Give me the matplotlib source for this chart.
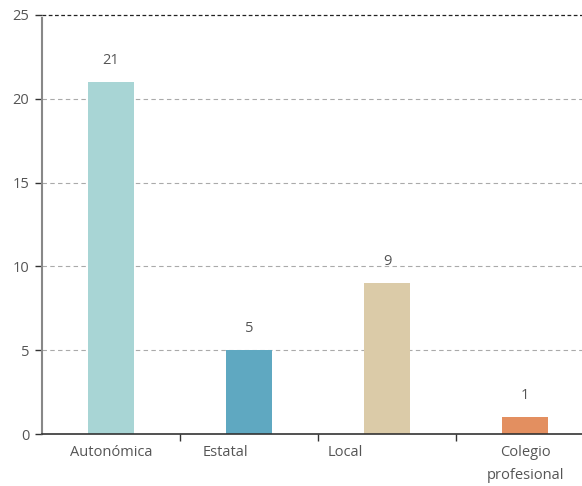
import matplotlib.pyplot as plt
import numpy as np

# Datos
categorias = ["Autonómica", "Estatal", "Local", "Colegio\nprofesional"]
valores = [21, 5, 9, 1]
colores = ["#a8d5d5", "#5fa8c1", "#dbcba8", "#e38f60"]
# desplazamiento de cada etiqueta respecto al centro de la barra (como en el original)
desplaz_etiquetas = [0.0, -0.17, -0.30, 0.0]

plt.rcParams['font.family'] = ['Open Sans', 'DejaVu Sans']

fig = plt.figure(figsize=(5.82, 4.86), dpi=100)
ax = fig.add_axes([42 / 582, 1 - 434 / 486, 1 - 42 / 582, (434 - 15) / 486])

x = np.arange(len(categorias))
ax.bar(x, valores, width=0.333, color=colores, zorder=3)

for xi, v in zip(x, valores):
    ax.annotate(str(v), (xi, v), xytext=(0, 10), textcoords="offset points",
                ha="center", va="bottom", fontsize=10.5, color="#555555")

ax.set_xlim(-0.5, 3.413)
ax.set_ylim(0, 25)

# lineas de referencia
for y in [5, 10, 15, 20]:
    ax.axhline(y, color="#aaaaaa", linestyle=(0, (4, 3)), linewidth=0.8, zorder=1)
ax.axhline(25, color="#222222", linestyle=(0, (3, 2)), linewidth=0.9, zorder=1, clip_on=False)

# ejes
ax.set_yticks([0, 5, 10, 15, 20, 25])
ax.tick_params(axis="y", length=5, width=1, color="#333333", labelsize=10.5,
               labelcolor="#555555", pad=4)
ax.set_xticks(x[:-1] + 0.5)
ax.set_xticklabels([])
ax.tick_params(axis="x", length=5, width=1, color="#333333")
ax.set_xticks(x + np.array(desplaz_etiquetas), minor=True)
ax.set_xticklabels(categorias, minor=True, fontsize=10.5, color="#555555",
                   linespacing=1.75)
ax.tick_params(axis="x", which="minor", length=0, pad=8)

for lado in ["top", "right"]:
    ax.spines[lado].set_visible(False)
ax.spines["left"].set_color("#888888")
ax.spines["left"].set_linewidth(1.5)
ax.spines["left"].set_bounds(0, 24.8)
ax.spines["bottom"].set_color("#333333")
ax.spines["bottom"].set_linewidth(1.2)
ax.spines["bottom"].set_zorder(4)

plt.savefig("out.png", dpi=100)
